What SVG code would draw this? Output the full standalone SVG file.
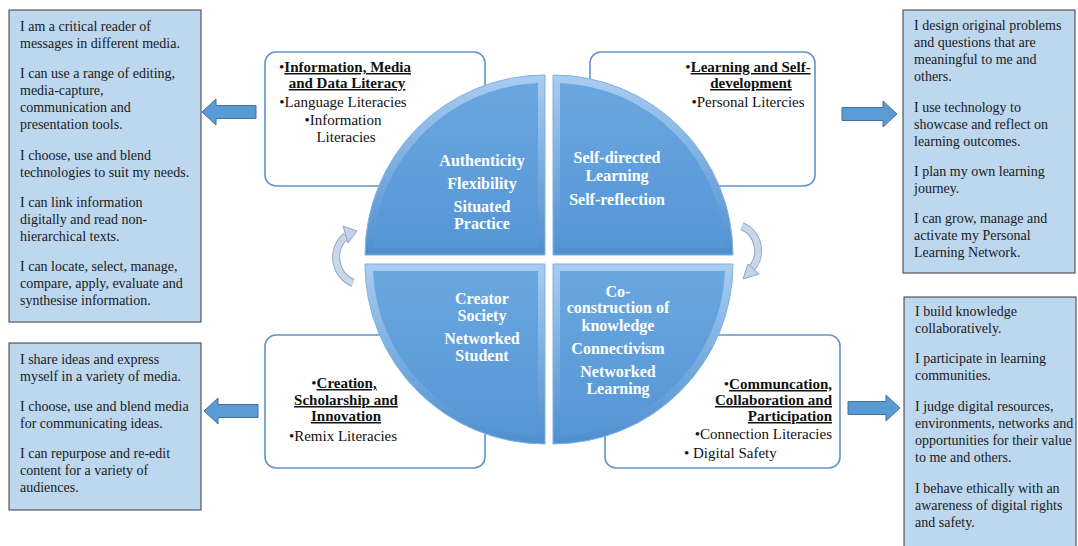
<svg xmlns="http://www.w3.org/2000/svg" width="1078" height="546" viewBox="0 0 1078 546">
<defs>
<style>
.bluebox{fill:#bdd7ee;stroke:#3a3a3a;stroke-width:1}
.bt{font-family:"Liberation Serif","Times New Roman",serif;font-size:14px;fill:#1a1a1a}
.wbox{fill:#ffffff;stroke:#6492c8;stroke-width:1.6}
.wt{font-family:"Liberation Serif","Times New Roman",serif;font-size:15px;fill:#111}
.wh{font-weight:bold;text-decoration:underline}
.ct{font-family:"Liberation Serif","Times New Roman",serif;font-size:16px;font-weight:bold;fill:#ffffff;text-anchor:middle}
.barrow{fill:#5b9bd5;stroke:#41719c;stroke-width:1}
.rim{fill:url(#rimg);stroke:#7eb1e2;stroke-width:1}
.face{fill:url(#faceg)}
.carc{fill:none;stroke:#8fa7c6;stroke-width:8}
.carc2{fill:none;stroke:#c9d7ea;stroke-width:6}
.chead{fill:#c3d3e8;stroke:#8fa7c6;stroke-width:1}
</style>
<linearGradient id="rimg" x1="0" y1="0" x2="0" y2="1">
<stop offset="0" stop-color="#a9cdf0"/>
<stop offset="1" stop-color="#4f8fcf"/>
</linearGradient>
<linearGradient id="faceg" x1="0" y1="0" x2="0" y2="1">
<stop offset="0" stop-color="#6aa7e0"/>
<stop offset="1" stop-color="#5596d6"/>
</linearGradient>
</defs>

<g id="box-tl-info">
<rect class="bluebox" x="9" y="10" width="192" height="312"/>
<text class="bt" x="20" y="31">I am a critical reader of</text>
<text class="bt" x="20" y="48">messages in different media.</text>
<text class="bt" x="20" y="78">I can use a range of editing,</text>
<text class="bt" x="20" y="95">media-capture,</text>
<text class="bt" x="20" y="112">communication and</text>
<text class="bt" x="20" y="129">presentation tools.</text>
<text class="bt" x="20" y="160">I choose, use and blend</text>
<text class="bt" x="20" y="177">technologies to suit my needs.</text>
<text class="bt" x="20" y="207">I can link information</text>
<text class="bt" x="20" y="224">digitally and read non-</text>
<text class="bt" x="20" y="241">hierarchical texts.</text>
<text class="bt" x="20" y="271">I can locate, select, manage,</text>
<text class="bt" x="20" y="288">compare, apply, evaluate and</text>
<text class="bt" x="20" y="305">synthesise information.</text>
</g>

<g id="box-tr-info">
<rect class="bluebox" x="903" y="10" width="172" height="263"/>
<text class="bt" x="914" y="30">I design original problems</text>
<text class="bt" x="914" y="47">and questions that are</text>
<text class="bt" x="914" y="64">meaningful to me and</text>
<text class="bt" x="914" y="81">others.</text>
<text class="bt" x="914" y="112">I use technology to</text>
<text class="bt" x="914" y="129">showcase and reflect on</text>
<text class="bt" x="914" y="146">learning outcomes.</text>
<text class="bt" x="914" y="176">I plan my own learning</text>
<text class="bt" x="914" y="193">journey.</text>
<text class="bt" x="914" y="223">I can grow, manage and</text>
<text class="bt" x="914" y="240">activate my Personal</text>
<text class="bt" x="914" y="257">Learning Network.</text>
</g>

<g id="box-bl-info">
<rect class="bluebox" x="9" y="343" width="192" height="167"/>
<text class="bt" x="20" y="364">I share ideas and express</text>
<text class="bt" x="20" y="381">myself in a variety of media.</text>
<text class="bt" x="20" y="411">I choose, use and blend media</text>
<text class="bt" x="20" y="428">for communicating ideas.</text>
<text class="bt" x="20" y="458">I can repurpose and re-edit</text>
<text class="bt" x="20" y="475">content for a variety of</text>
<text class="bt" x="20" y="492">audiences.</text>
</g>

<g id="box-br-info">
<rect class="bluebox" x="904" y="297" width="172" height="260"/>
<text class="bt" x="915" y="316">I build knowledge</text>
<text class="bt" x="915" y="333">collaboratively.</text>
<text class="bt" x="915" y="363">I participate in learning</text>
<text class="bt" x="915" y="380">communities.</text>
<text class="bt" x="915" y="411">I judge digital resources,</text>
<text class="bt" x="915" y="428">environments, networks and</text>
<text class="bt" x="915" y="445">opportunities for their value</text>
<text class="bt" x="915" y="462">to me and others.</text>
<text class="bt" x="915" y="493">I behave ethically with an</text>
<text class="bt" x="915" y="510">awareness of digital rights</text>
<text class="bt" x="915" y="527">and safety.</text>
</g>

<g id="panel-tl">
<rect class="wbox" x="265" y="52" width="220" height="134" rx="11"/>
<text class="wt" x="345" y="72" text-anchor="middle">•<tspan class="wh">Information, Media</tspan></text>
<text class="wt wh" x="347" y="88" text-anchor="middle">and Data Literacy</text>
<text class="wt" x="343" y="107" text-anchor="middle">•Language Literacies</text>
<text class="wt" x="343" y="125" text-anchor="middle">•Information</text>
<text class="wt" x="346" y="142" text-anchor="middle">Literacies</text>
</g>

<g id="panel-tr">
<rect class="wbox" x="590" y="52" width="225" height="134" rx="11"/>
<text class="wt" x="748" y="72" text-anchor="middle">•<tspan class="wh">Learning and Self-</tspan></text>
<text class="wt wh" x="751" y="88" text-anchor="middle">development</text>
<text class="wt" x="748" y="107" text-anchor="middle">•Personal Litercies</text>
</g>

<g id="panel-bl">
<rect class="wbox" x="265" y="335" width="220" height="133" rx="11"/>
<text class="wt" x="344" y="388" text-anchor="middle">•<tspan class="wh">Creation,</tspan></text>
<text class="wt wh" x="346" y="405" text-anchor="middle">Scholarship and</text>
<text class="wt wh" x="346" y="421" text-anchor="middle">Innovation</text>
<text class="wt" x="343" y="441" text-anchor="middle">•Remix Literacies</text>
</g>

<g id="panel-br">
<rect class="wbox" x="605" y="335" width="235" height="133" rx="11"/>
<text class="wt" x="832" y="389" text-anchor="end">•<tspan class="wh">Communcation,</tspan></text>
<text class="wt wh" x="832" y="405" text-anchor="end">Collaboration and</text>
<text class="wt wh" x="832" y="421" text-anchor="end">Participation</text>
<text class="wt" x="832" y="439" text-anchor="end">•Connection Literacies</text>
<text class="wt" x="684" y="458">• Digital Safety</text>
</g>

<g id="quad-tl">
<path class="rim" d="M545,255 L365,255 A180,180 0 0 1 545,75 Z"/>
<path class="face" d="M538,248 L373,248 A172,172 0 0 1 538,83 Z"/>
<text class="ct" x="482" y="166">Authenticity</text>
<text class="ct" x="482" y="189">Flexibility</text>
<text class="ct" x="482" y="212">Situated</text>
<text class="ct" x="482" y="229">Practice</text>
</g>

<g id="quad-tr">
<path class="rim" d="M553,255 L553,75 A180,180 0 0 1 733,255 Z"/>
<path class="face" d="M560,248 L560,83 A172,172 0 0 1 725,248 Z"/>
<text class="ct" x="617" y="163">Self-directed</text>
<text class="ct" x="617" y="181">Learning</text>
<text class="ct" x="617" y="205">Self-reflection</text>
</g>

<g id="quad-bl">
<path class="rim" d="M545,264 L545,444 A180,180 0 0 1 365,264 Z"/>
<path class="face" d="M538,271 L538,436 A172,172 0 0 1 373,271 Z"/>
<text class="ct" x="482" y="304">Creator</text>
<text class="ct" x="482" y="321">Society</text>
<text class="ct" x="482" y="344">Networked</text>
<text class="ct" x="482" y="361">Student</text>
</g>

<g id="quad-br">
<path class="rim" d="M553,264 L733,264 A180,180 0 0 1 553,444 Z"/>
<path class="face" d="M560,271 L725,271 A172,172 0 0 1 560,436 Z"/>
<text class="ct" x="618" y="297">Co-</text>
<text class="ct" x="618" y="313">construction of</text>
<text class="ct" x="618" y="331">knowledge</text>
<text class="ct" x="618" y="354">Connectivism</text>
<text class="ct" x="618" y="377">Networked</text>
<text class="ct" x="618" y="394">Learning</text>
</g>

<g id="connectors">
<polygon class="barrow" points="202,112 216,99 216,105.5 256,105.5 256,118.5 216,118.5 216,125"/>
<polygon class="barrow" points="204,411 218,398 218,404.5 258,404.5 258,417.5 218,417.5 218,424"/>
<polygon class="barrow" points="897,114 883,101 883,107.5 842,107.5 842,120.5 883,120.5 883,127"/>
<polygon class="barrow" points="900,408 886,395 886,401.5 848,401.5 848,414.5 886,414.5 886,421"/>
<path class="carc" d="M353,283 A28,28 0 0 1 346,236"/>
<path class="carc2" d="M353,283 A28,28 0 0 1 346,236"/>
<polygon class="chead" points="357,231 343,226 348,243"/>
<path class="carc" d="M742,226 A27,27 0 0 1 750,270"/>
<path class="carc2" d="M742,226 A27,27 0 0 1 750,270"/>
<polygon class="chead" points="743,279 748,264 759,274"/>
</g>
</svg>
